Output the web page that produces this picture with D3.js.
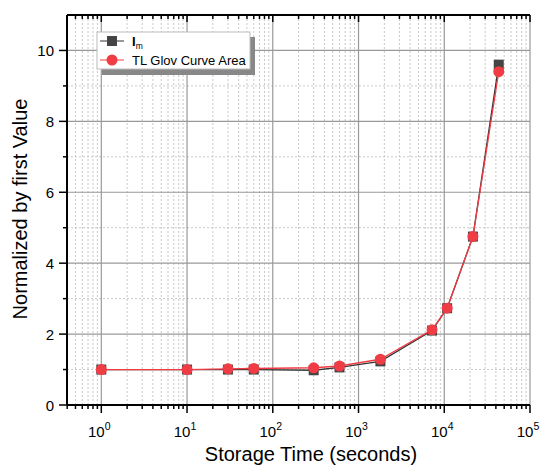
<!DOCTYPE html>
<html>
<head>
<meta charset="utf-8">
<title></title>
<style>
  body { margin: 0; background: #fff; }
</style>
</head>
<body>
<script src="https://cdn.jsdelivr.net/npm/d3@7/dist/d3.min.js"></script>
<script>
// storage time (s) and the two normalized series
var times    = [1, 10, 30, 60, 300, 600, 1800, 7200, 10800, 21600, 43200];
var imVals   = [1, 1, 1, 1, 0.98, 1.06, 1.23, 2.1, 2.73, 4.75, 9.6];
var tlVals   = [1, 1, 1.02, 1.03, 1.05, 1.1, 1.29, 2.12, 2.73, 4.75, 9.4];
var yTicks   = [0, 2, 4, 6, 8, 10];
var xDecades = [0, 1, 2, 3, 4, 5];

var width = 545, height = 468;
var margin = {top: 15, right: 15, bottom: 63, left: 67};
var w = 530 - margin.left, h = 405 - margin.top;

var x = d3.scaleLog().domain([Math.pow(10, -0.4), 1e5]).range([0, w]);
var y = d3.scaleLinear().domain([0, 11]).range([h, 0]);

var svg = d3.select("body").append("svg")
    .attr("width", width).attr("height", height)
    .style("font-family", "'Liberation Sans', Arial, sans-serif");
var g = svg.append("g")
    .attr("transform", "translate(" + margin.left + "," + margin.top + ")");

// minor positions
var minorX = [];
for (var e = -1; e < 5; e++) {
  for (var m = 2; m <= 9; m++) {
    var v = m * Math.pow(10, e);
    if (v >= x.domain()[0] && v <= 1e5) minorX.push(v);
  }
}
var minorY = [1, 3, 5, 7, 9];

// grid
g.selectAll(".mgx").data(minorX).enter().append("line")
    .attr("x1", d => x(d)).attr("x2", d => x(d))
    .attr("y1", 0).attr("y2", h)
    .style("stroke", "#c8c8c8").style("stroke-dasharray", "2,2");
g.selectAll(".mgy").data(minorY).enter().append("line")
    .attr("x1", 0).attr("x2", w)
    .attr("y1", d => y(d)).attr("y2", d => y(d))
    .style("stroke", "#c8c8c8").style("stroke-dasharray", "2,2");
g.selectAll(".gx").data(xDecades).enter().append("line")
    .attr("x1", d => x(Math.pow(10, d))).attr("x2", d => x(Math.pow(10, d)))
    .attr("y1", 0).attr("y2", h)
    .style("stroke", "#999").style("stroke-width", 1.2);
g.selectAll(".gy").data(yTicks.slice(1)).enter().append("line")
    .attr("x1", 0).attr("x2", w)
    .attr("y1", d => y(d)).attr("y2", d => y(d))
    .style("stroke", "#999").style("stroke-width", 1.2);

// axes
var xMajor = xDecades.map(d => Math.pow(10, d));
var bottomAx = g.append("g").attr("transform", "translate(0," + h + ")");
bottomAx.append("line").attr("x1", 0).attr("x2", w).style("stroke", "#000").style("stroke-width", 2);
bottomAx.selectAll(".tM").data(xMajor).enter().append("line")
    .attr("x1", d => x(d)).attr("x2", d => x(d)).attr("y1", 0).attr("y2", 8)
    .style("stroke", "#000").style("stroke-width", 1.5);
bottomAx.selectAll(".tm").data(minorX).enter().append("line")
    .attr("x1", d => x(d)).attr("x2", d => x(d)).attr("y1", 0).attr("y2", 4)
    .style("stroke", "#000").style("stroke-width", 1.5);
var lbl = bottomAx.selectAll(".lb").data(xDecades).enter().append("text")
    .attr("x", d => x(Math.pow(10, d)) - 2).attr("y", 32)
    .attr("text-anchor", "middle").style("font-size", "15px");
lbl.append("tspan").text("10");
lbl.append("tspan").attr("dy", -7).style("font-size", "10.5px").text(d => d);

var topAx = g.append("g");
topAx.append("line").attr("x1", 0).attr("x2", w).style("stroke", "#000").style("stroke-width", 2);
topAx.selectAll(".tM").data(xMajor).enter().append("line")
    .attr("x1", d => x(d)).attr("x2", d => x(d)).attr("y1", 0).attr("y2", 7)
    .style("stroke", "#000").style("stroke-width", 1.5);
topAx.selectAll(".tm").data(minorX).enter().append("line")
    .attr("x1", d => x(d)).attr("x2", d => x(d)).attr("y1", 0).attr("y2", 4)
    .style("stroke", "#000").style("stroke-width", 1.5);

var leftAx = g.append("g");
leftAx.append("line").attr("y1", 0).attr("y2", h).style("stroke", "#000").style("stroke-width", 2);
leftAx.selectAll(".tM").data(yTicks).enter().append("line")
    .attr("x1", -8).attr("x2", 0).attr("y1", d => y(d)).attr("y2", d => y(d))
    .style("stroke", "#000").style("stroke-width", 1.5);
leftAx.selectAll(".tm").data(minorY).enter().append("line")
    .attr("x1", -4).attr("x2", 0).attr("y1", d => y(d)).attr("y2", d => y(d))
    .style("stroke", "#000").style("stroke-width", 1.5);
leftAx.selectAll(".lb").data(yTicks).enter().append("text")
    .attr("x", -13).attr("y", d => y(d) + 5.5)
    .attr("text-anchor", "end").style("font-size", "15px").text(d => d);

// axis titles
svg.append("text").attr("x", 311).attr("y", 461).attr("text-anchor", "middle")
    .style("font-size", "20px").text("Storage Time (seconds)");
svg.append("text").attr("transform", "translate(27," + 209 + ") rotate(-90)")
    .attr("text-anchor", "middle").style("font-size", "20px").text("Normalized by first Value");

// series
var imData = times.map((t, i) => ({t: t, v: imVals[i]}));
var tlData = times.map((t, i) => ({t: t, v: tlVals[i]}));
var line = d3.line().x(d => x(d.t)).y(d => y(d.v));

g.append("path").datum(imData).attr("d", line)
    .style("fill", "none").style("stroke", "#333").style("stroke-width", 1.3);
g.selectAll(".sq").data(imData).enter().append("rect")
    .attr("x", d => x(d.t) - 5).attr("y", d => y(d.v) - 5)
    .attr("width", 10).attr("height", 10).style("fill", "#444");

g.append("path").datum(tlData).attr("d", line)
    .style("fill", "none").style("stroke", "#f03c44").style("stroke-width", 1.3);
g.selectAll(".ci").data(tlData).enter().append("circle")
    .attr("cx", d => x(d.t)).attr("cy", d => y(d.v)).attr("r", 5.5)
    .style("fill", "#f03c44");

// legend
var leg = svg.append("g");
leg.append("rect").attr("x", 102).attr("y", 37).attr("width", 153).attr("height", 38).style("fill", "#888");
leg.append("rect").attr("x", 97).attr("y", 32).attr("width", 153).attr("height", 37)
    .style("fill", "#fff").style("stroke", "#bbb");
leg.append("line").attr("x1", 100).attr("x2", 124).attr("y1", 41).attr("y2", 41).style("stroke", "#333");
leg.append("rect").attr("x", 107).attr("y", 36).attr("width", 10).attr("height", 10).style("fill", "#444");
var t1 = leg.append("text").attr("x", 132).attr("y", 46).style("font-size", "13px");
t1.append("tspan").style("font-weight", "bold").text("I");
t1.append("tspan").attr("dy", 3).style("font-size", "8.5px").text("m");
leg.append("line").attr("x1", 100).attr("x2", 124).attr("y1", 60).attr("y2", 60).style("stroke", "#f03c44");
leg.append("circle").attr("cx", 112).attr("cy", 60).attr("r", 5.5).style("fill", "#f03c44");
leg.append("text").attr("x", 132).attr("y", 64.5).style("font-size", "13px").text("TL Glov Curve Area");
</script>
</body>
</html>
